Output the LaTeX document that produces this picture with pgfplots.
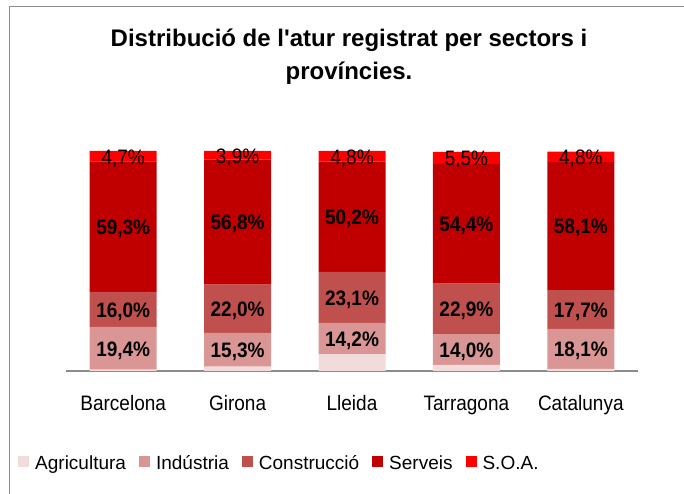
\documentclass[border=0pt]{standalone}
\usepackage{pgfplots}
\pgfplotsset{compat=1.18}
\usepackage{pgfplotstable}
\usepackage{fontspec}
\setmainfont{Liberation Sans}
\definecolor{cAgr}{HTML}{F2DCDB}
\definecolor{cInd}{HTML}{D99694}
\definecolor{cCon}{HTML}{C0504D}
\definecolor{cSer}{HTML}{C00000}
\definecolor{cSoa}{HTML}{FF0000}
\definecolor{frame}{HTML}{8C8C8C}

\pgfplotstableread{
idx name agri ind cons serv soa
0 Barcelona 0.6 19.4 16.0 59.3 4.7
1 Girona 2.0 15.3 22.0 56.8 3.9
2 Lleida 7.7 14.2 23.1 50.2 4.8
3 Tarragona 2.8 14.0 22.9 54.4 5.5
4 Catalunya 1.0 18.1 17.7 58.1 4.8
}\data

\begin{document}
\begin{tikzpicture}
\useasboundingbox (0,0) rectangle (684pt,494pt);
\draw[frame, line width=1.5pt] (9.5pt,0pt) -- (9.5pt,487.5pt) -- (684pt,487.5pt);
\node[anchor=north, align=center, inner sep=0pt, font=\bfseries\fontsize{24}{33}\selectfont] at (349pt,465pt) {Distribució de l\textquotesingle atur registrat per sectors i\\províncies.};
\pgfplotsset{base/.style={scale only axis, width=572pt, height=220pt, xmin=-0.5, xmax=4.5, ymin=0, ymax=100, at={(66pt,123pt)}, anchor=south west}}
\begin{axis}[base, ybar stacked, bar width=67pt,
  axis y line=none, axis x line*=bottom,
  x axis line style={frame, line width=1.5pt},
  xtick={0,...,4}, xticklabels={Barcelona,Girona,Lleida,Tarragona,Catalunya},
  major tick length=0pt,
  xticklabel style={font=\fontsize{19}{22}\selectfont, yscale=1.1, inner sep=0pt, text height=14pt, text depth=4pt, anchor=north, yshift=-22pt},
  legend columns=5,
  legend style={at={(-0.0839,-0.4214)}, anchor=west, draw=none, fill=none, inner sep=0pt,
    font=\fontsize{19}{22}\selectfont,
    /tikz/every even column/.append style={column sep=11pt}},
  legend image code/.code={\fill[#1] (0pt,-3.2pt) rectangle (11pt,7.8pt); \path (15pt,0pt);},
]
\addplot[fill=cAgr, draw=none] table[x=idx, y=agri]{\data};
\addlegendentry{Agricultura}
\addplot[fill=cInd, draw=none] table[x=idx, y=ind]{\data};
\addlegendentry{Indústria}
\addplot[fill=cCon, draw=none] table[x=idx, y=cons]{\data};
\addlegendentry{Construcció}
\addplot[fill=cSer, draw=none] table[x=idx, y=serv]{\data};
\addlegendentry{Serveis}
\addplot[fill=cSoa, draw=none] table[x=idx, y=soa]{\data};
\addlegendentry{S.O.A.}
\end{axis}
\begin{axis}[base, hide axis,
  /pgf/number format/assume math mode=true,
  nodes near coords={\pgfmathprintnumber[fixed, fixed zerofill, precision=1, use comma]{\pgfplotspointmeta}\%},
  every node near coord/.append style={anchor=center, inner sep=0pt, yshift=-2pt, yscale=1.1, font=\bfseries\fontsize{19}{22}\selectfont},
]
\addplot[draw=none, mark=none, point meta=explicit] table[x=idx, y expr=\thisrow{agri}+0.5*\thisrow{ind}, meta=ind]{\data};
\addplot[draw=none, mark=none, point meta=explicit] table[x=idx, y expr=\thisrow{agri}+\thisrow{ind}+0.5*\thisrow{cons}, meta=cons]{\data};
\addplot[draw=none, mark=none, point meta=explicit] table[x=idx, y expr=\thisrow{agri}+\thisrow{ind}+\thisrow{cons}+0.5*\thisrow{serv}, meta=serv]{\data};
\addplot[draw=none, mark=none, point meta=explicit, every node near coord/.append style={font=\mdseries\fontsize{19}{22}\selectfont}] table[x=idx, y expr=\thisrow{agri}+\thisrow{ind}+\thisrow{cons}+\thisrow{serv}+0.5*\thisrow{soa}, meta=soa]{\data};
\end{axis}
\end{tikzpicture}
\end{document}
